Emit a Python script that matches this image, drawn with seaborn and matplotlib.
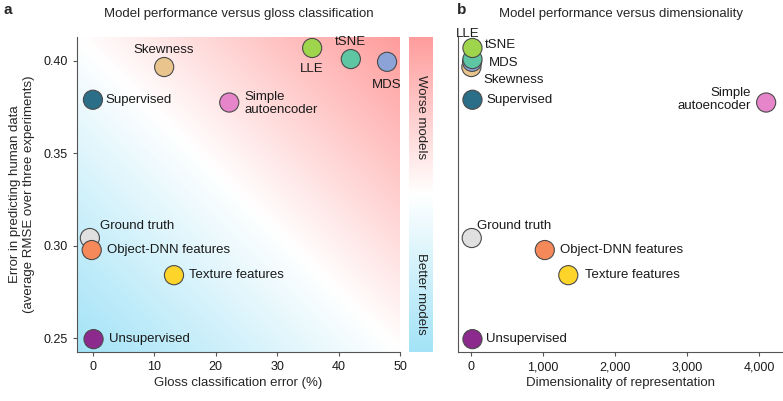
import numpy as np
import pandas as pd
import seaborn as sns
import matplotlib.pyplot as plt
from matplotlib.colors import LinearSegmentedColormap
from matplotlib.ticker import FuncFormatter

# values
models = ['Skewness', 'MDS', 'tSNE', 'LLE', 'Supervised', 'Simple\nautoencoder',
          'Ground truth', 'Object-DNN features', 'Texture features', 'Unsupervised']
gloss_error = [11.6, 47.9, 42.0, 35.7, 0.0, 22.2, -0.5, -0.2, 13.2, 0.1]
rmse = [0.3967, 0.3995, 0.401, 0.407, 0.379, 0.3775, 0.3042, 0.2977, 0.2841, 0.2495]
dimensionality = [5, 15, 20, 20, 20, 4096, 10, 1024, 1350, 20]
colors = ['#e9c48d', '#8ba3d6', '#5ec6a2', '#9fd54c', '#2b6e88', '#e685c9',
          '#e0e0e0', '#f6895a', '#fdd42a', '#8c2a8e']

df = pd.DataFrame({'model': models, 'gloss_error': gloss_error,
                   'rmse': rmse, 'dim': dimensionality})
palette = dict(zip(models, colors))

sns.set_theme(style='ticks')
plt.rcParams['font.family'] = ['Liberation Sans', 'DejaVu Sans']
plt.rcParams['font.size'] = 9

fig = plt.figure(figsize=(7.83, 4.01), dpi=100)
ax_a = fig.add_axes([0.0983, 0.122, 0.4125, 0.786])
ax_cb = fig.add_axes([0.5224, 0.122, 0.0294, 0.786])
ax_b = fig.add_axes([0.585, 0.122, 0.415, 0.786])

red = '#ff9c9c'
blue = '#a3e3f7'
cmap = LinearSegmentedColormap.from_list('better_worse', [blue, '#ffffff', red])

# diagonal gradient behind panel a
uu, vv = np.meshgrid(np.linspace(0, 1, 300), np.linspace(0, 1, 300))
grad = (uu + vv) / 2
ax_a.imshow(grad, cmap=cmap, origin='lower', extent=[0, 1, 0, 1],
            transform=ax_a.transAxes, aspect='auto', zorder=0)

# vertical strip
strip = np.linspace(0, 1, 300).reshape(-1, 1)
ax_cb.imshow(strip, cmap=cmap, origin='lower', aspect='auto', extent=[0, 1, 0, 1])
ax_cb.set_axis_off()
ax_cb.text(0.5, 0.746, 'Worse models', rotation=-90, ha='center', va='center',
           fontsize=9.5, color='#222222', transform=ax_cb.transAxes)
ax_cb.text(0.5, 0.184, 'Better models', rotation=-90, ha='center', va='center',
           fontsize=9.5, color='#222222', transform=ax_cb.transAxes)

pt_kw = dict(hue='model', palette=palette, s=190, edgecolor='#4a4a4a',
             linewidth=0.8, legend=False, zorder=3)
sns.scatterplot(data=df, x='gloss_error', y='rmse', ax=ax_a, **pt_kw)
sns.scatterplot(data=df, x='dim', y='rmse', ax=ax_b, **pt_kw)

# label offsets in points (dx, dy, ha)
offs_a = {
    'Skewness': (0, 12, 'center'),
    'MDS': (0, -17, 'center'),
    'tSNE': (0, 12, 'center'),
    'LLE': (0, -15, 'center'),
    'Supervised': (9, 0, 'left'),
    'Simple\nautoencoder': (11, -1, 'left'),
    'Ground truth': (7, 9, 'left'),
    'Object-DNN features': (11, 0, 'left'),
    'Texture features': (11, 0, 'left'),
    'Unsupervised': (11, 0, 'left'),
}
offs_b = {
    'Skewness': (9, -9, 'left'),
    'MDS': (12, -1, 'left'),
    'tSNE': (9, 10, 'left'),
    'LLE': (-12, 10, 'left'),
    'Supervised': (10, 0, 'left'),
    'Simple\nautoencoder': (-11, 2, 'right'),
    'Ground truth': (4, 9, 'left'),
    'Object-DNN features': (11, 0, 'left'),
    'Texture features': (12, 0, 'left'),
    'Unsupervised': (10, 0, 'left'),
}
for ax, xcol, offs in [(ax_a, 'gloss_error', offs_a), (ax_b, 'dim', offs_b)]:
    for _, r in df.iterrows():
        dx, dy, ha = offs[r['model']]
        ax.annotate(r['model'], (r[xcol], r['rmse']), xytext=(dx, dy),
                    textcoords='offset points', ha=ha, va='center',
                    fontsize=9.5, color='#1a1a1a', zorder=4,
                    linespacing=1.1, annotation_clip=False)

for ax in (ax_a, ax_b):
    ax.set_ylim(0.2425, 0.413)
    for s in ('top', 'right'):
        ax.spines[s].set_visible(False)
    for s in ('left', 'bottom'):
        ax.spines[s].set_color('#555555')
        ax.spines[s].set_linewidth(0.8)
    ax.tick_params(colors='#555555', labelcolor='#1a1a1a', labelsize=9,
                   length=3, width=0.8)

ax_a.set_xlim(-2.6, 50)
ax_a.set_xticks([0, 10, 20, 30, 40, 50])
ax_a.set_yticks([0.25, 0.30, 0.35, 0.40])
ax_a.yaxis.set_major_formatter(FuncFormatter(lambda v, p: f'{v:.2f}'))
ax_a.set_xlabel('Gloss classification error (%)', fontsize=9.5, labelpad=3)
ax_a.set_ylabel('Error in predicting human data\n(average RMSE over three experiments)',
                fontsize=9.5, labelpad=6)
ax_a.set_title('Model performance versus gloss classification', fontsize=9.5, pad=14)

ax_b.set_xlim(-180, 4330)
ax_b.set_xticks([0, 1000, 2000, 3000, 4000])
ax_b.xaxis.set_major_formatter(FuncFormatter(lambda v, p: f'{int(v):,}'))
ax_b.set_yticks([])
ax_b.set_xlabel('Dimensionality of representation', fontsize=9.5, labelpad=3)
ax_b.set_ylabel('')
ax_b.set_title('Model performance versus dimensionality', fontsize=9.5, pad=14)

fig.text(0.004, 0.975, 'a', fontsize=11, fontweight='bold', va='center')
fig.text(0.583, 0.975, 'b', fontsize=11, fontweight='bold', va='center')

fig.savefig('out.png', dpi=100)
